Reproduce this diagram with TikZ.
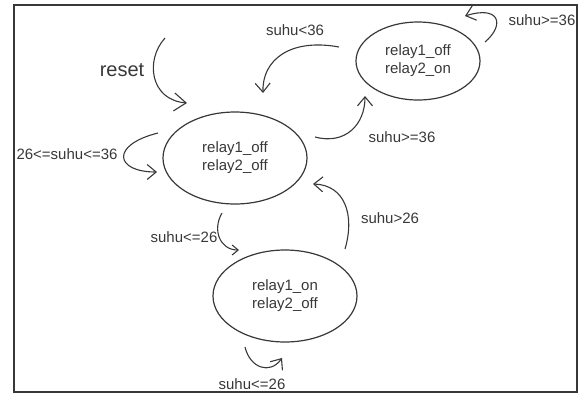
\documentclass[tikz,border=0pt]{standalone}
\usepackage{fontspec}
\setmainfont{Liberation Sans}
\usetikzlibrary{arrows.meta,shapes.geometric}
\definecolor{ink}{HTML}{383838}
\tikzset{
  state/.style={ellipse,draw=ink,line width=1.2pt,minimum width=#1,text=ink,align=center,font=\fontsize{15}{18}\selectfont,inner sep=0pt},
  lbl/.style={text=ink,font=\fontsize{15}{18}\selectfont,inner sep=0pt},
  arr/.style={draw=ink,line width=1.1pt,-{Straight Barb[length=9pt,width=15pt,line width=1.1pt]}},
}
\begin{document}
\begin{tikzpicture}[x=1pt,y=-1pt]
\useasboundingbox (0,0) rectangle (579,394);
\draw[ink,line width=1.4pt] (14,5) rectangle (577,392);
\node[state=144pt,minimum height=92pt] (s0) at (235,158) {relay1\_off\\relay2\_off};
\node[state=124pt,minimum height=78pt] (s1) at (418,61) {relay1\_off\\relay2\_on};
\node[state=144pt,minimum height=92pt] (s2) at (285,296) {relay1\_on\\relay2\_off};
\node[lbl,font=\fontsize{20}{24}\selectfont] (lreset) at (122,70) {reset};
\node[lbl] (lself0) at (67,154) {26<=suhu<=36};
\node[lbl] (l10) at (295,30) {suhu<36};
\node[lbl] (lself1) at (542,20) {suhu>=36};
\node[lbl] (l01) at (402,137) {suhu>=36};
\node[lbl] (l02) at (184,237) {suhu<=26};
\node[lbl] (l20) at (390,218) {suhu>26};
\node[lbl] (lself2) at (252,384) {suhu<=26};
% coordinates
\coordinate (r0) at (165,38);   \coordinate (r1) at (187,103);
\coordinate (a0) at (339,47);   \coordinate (a1) at (263,93);
\coordinate (b0) at (485,42);   \coordinate (b1) at (465,16);
\coordinate (c0) at (315,137);  \coordinate (c1) at (365,96);
\coordinate (d0) at (158,133);  \coordinate (d1) at (157,172);
\coordinate (e0) at (222,213);  \coordinate (e1) at (239,250);
\coordinate (f0) at (345,249);  \coordinate (f1) at (313,184);
\coordinate (g0) at (245,347);  \coordinate (g1) at (282,358);
\draw[arr,-{Straight Barb[length=12pt,width=18pt,line width=1.1pt]}] (r0) .. controls (145,60) and (150,100) .. (r1);
\draw[arr] (a0) .. controls (290,38) and (262,60) .. (a1);
\draw[arr] (b0) .. controls (505,25) and (500,5) .. (b1);
\draw[arr] (c0) .. controls (345,145) and (365,125) .. (c1);
\draw[arr] (d0) .. controls (110,145) and (115,172) .. (d1);
\draw[arr,-{Straight Barb[length=6pt,width=10pt,line width=1.1pt]}] (e0) .. controls (212,230) and (220,250) .. (e1);
\draw[arr] (f0) .. controls (355,215) and (345,185) .. (f1);
\draw[arr] (g0) .. controls (250,368) and (270,375) .. (g1);
\end{tikzpicture}
\end{document}
